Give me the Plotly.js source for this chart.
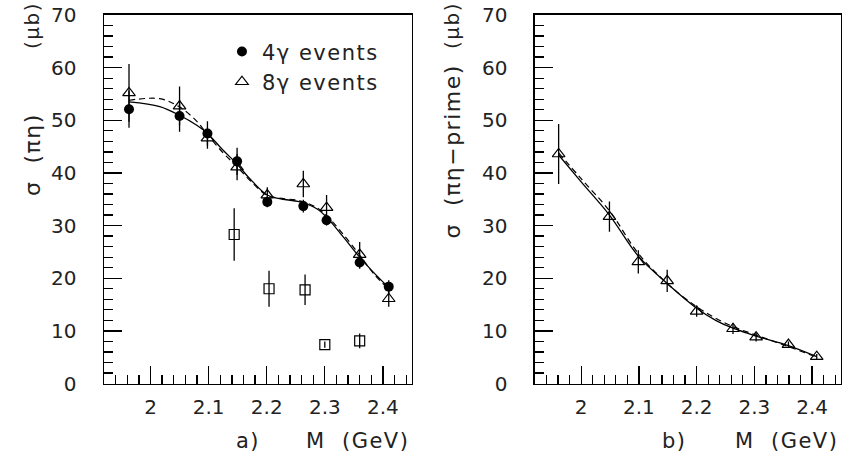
<!DOCTYPE html>
<html>
<head>
<meta charset="utf-8">
<script src="https://cdn.plot.ly/plotly-3.0.1.min.js"></script>
<style>
html,body{margin:0;padding:0;background:#fff;}
.annotation-text,.legendtext{letter-spacing:1.5px;}
</style>
</head>
<body>
<div id="chart" style="width:843px;height:460px;"></div>
<script>
// ---- panel a) : 4γ events
var mass4g = [1.963, 2.050, 2.098, 2.149, 2.201, 2.263, 2.303, 2.360, 2.410];
var sigma4g = [52.1, 50.8, 47.5, 42.2, 34.5, 33.7, 31.0, 23.0, 18.4];
var err4g = [3.5, 3.0, 2.3, 2.6, 1.0, 1.2, 1.0, 1.2, 1.2];
// ---- panel a) : 8γ events
var mass8g = [1.963, 2.050, 2.098, 2.149, 2.201, 2.263, 2.303, 2.360, 2.410];
var sigma8g = [55.2, 52.7, 46.6, 41.1, 35.8, 37.9, 33.4, 24.5, 16.1];
var err8g = [5.5, 3.7, 2.0, 2.5, 1.5, 2.5, 2.4, 2.4, 1.5];
// ---- panel a) : open squares
var massSq = [2.144, 2.204, 2.266, 2.300, 2.360];
var sigmaSq = [28.3, 18.0, 17.8, 7.4, 8.1];
var errSq = [5.0, 3.4, 2.9, 0.6, 1.4];
// ---- panel a) : fit curves
var fitAx = [1.963, 2.016, 2.049, 2.079, 2.098, 2.125, 2.148, 2.171, 2.201, 2.222, 2.257, 2.286, 2.303, 2.332, 2.360, 2.383, 2.410];
var fitAsolid = [53.5, 52.6, 51.0, 49.1, 47.5, 44.3, 41.8, 38.9, 35.8, 35.1, 34.5, 33.2, 31.6, 27.8, 24.0, 21.2, 18.2];
var fitAdash = [53.8, 54.1, 52.6, 49.9, 47.3, 43.8, 41.3, 38.6, 35.7, 35.2, 34.7, 33.4, 31.9, 28.3, 24.4, 21.0, 17.9];
// ---- panel b) : πη'
var massB = [1.961, 2.049, 2.099, 2.149, 2.200, 2.263, 2.303, 2.359, 2.408];
var sigmaB = [43.6, 31.7, 23.1, 19.5, 13.7, 10.4, 8.8, 7.4, 5.1];
var errB = [5.7, 2.85, 2.2, 2.1, 1.0, 1.0, 0.8, 0.6, 0.5];
var fitBx = [1.961, 2.000, 2.049, 2.099, 2.149, 2.200, 2.233, 2.263, 2.303, 2.359, 2.408];
var fitBsolid = [43.4, 38.3, 32.0, 24.2, 19.0, 14.3, 12.0, 10.5, 9.0, 7.2, 5.1];
var fitBdash = [43.8, 38.9, 32.8, 24.7, 19.0, 14.6, 12.4, 10.8, 9.2, 7.0, 5.0];
// ---- ticks / labels
var xTickVals = [2.0, 2.1, 2.2, 2.3, 2.4];
var xTickText = ["2", "2.1", "2.2", "2.3", "2.4"];
var yTickVals = [0, 10, 20, 30, 40, 50, 60, 70];
var yTickText = ["0", "10", "20", "30", "40", "50", "60", "70"];

var FONT = "DejaVu Sans, Liberation Sans, sans-serif";
var TXT = "#222";

function eb(arr){ return {type:'data', array:arr, visible:true, color:'#000', thickness:1.3, width:0}; }

var traces = [
  {x:fitAx, y:fitAdash, xaxis:'x', yaxis:'y', mode:'lines', showlegend:false,
   line:{color:'#000', width:1.2, dash:'6px,4px', shape:'spline', smoothing:1}},
  {x:fitAx, y:fitAsolid, xaxis:'x', yaxis:'y', mode:'lines', showlegend:false,
   line:{color:'#000', width:1.3, shape:'spline', smoothing:1}},
  {x:mass4g, y:sigma4g, error_y:eb(err4g), xaxis:'x', yaxis:'y', mode:'markers', name:'4γ events',
   marker:{symbol:'circle', size:10, color:'#000'}},
  {x:mass8g, y:sigma8g, error_y:eb(err8g), xaxis:'x', yaxis:'y', mode:'markers', name:'8γ events',
   marker:{symbol:'triangle-up-open', size:11, color:'#000', line:{width:1.2, color:'#000'}}},
  {x:massSq, y:sigmaSq, error_y:eb(errSq), xaxis:'x', yaxis:'y', mode:'markers', showlegend:false,
   marker:{symbol:'square-open', size:10, color:'#000', line:{width:1.2, color:'#000'}}},
  {x:fitBx, y:fitBdash, xaxis:'x2', yaxis:'y2', mode:'lines', showlegend:false,
   line:{color:'#000', width:1.2, dash:'6px,4px', shape:'spline', smoothing:1}},
  {x:fitBx, y:fitBsolid, xaxis:'x2', yaxis:'y2', mode:'lines', showlegend:false,
   line:{color:'#000', width:1.3, shape:'spline', smoothing:1}},
  {x:massB, y:sigmaB, error_y:eb(errB), xaxis:'x2', yaxis:'y2', mode:'markers', showlegend:false,
   marker:{symbol:'triangle-up-open', size:11, color:'#000', line:{width:1.2, color:'#000'}}}
];

function xax(dom, anchor){
  return {domain:dom, anchor:anchor, range:[1.92, 2.45], showline:true, mirror:true, linecolor:'#000', linewidth:1.5,
    showgrid:false, zeroline:false, ticks:'inside', ticklen:18, tickwidth:1.3, tickcolor:'#000',
    tickmode:'array', tickvals:xTickVals, ticktext:xTickText, ticklabelstandoff:5,
    tickfont:{family:FONT, size:20, color:TXT},
    minor:{ticks:'inside', ticklen:9, tickwidth:1.3, tickcolor:'#000', tickmode:'linear', tick0:1.92, dtick:0.02, showgrid:false}};
}
function yax(anchor){
  return {domain:[0.1663, 0.9674], anchor:anchor, range:[0, 70], showline:true, mirror:true, linecolor:'#000', linewidth:1.5,
    showgrid:false, zeroline:false, ticks:'inside', ticklen:18, tickwidth:1.3, tickcolor:'#000',
    tickmode:'array', tickvals:yTickVals, ticktext:yTickText, ticklabelstandoff:22,
    tickfont:{family:FONT, size:20, color:TXT},
    minor:{ticks:'inside', ticklen:9, tickwidth:1.3, tickcolor:'#000', tickmode:'linear', tick0:0, dtick:2, showgrid:false}};
}

function ann(text, x, y, xanchor, size, angle){
  return {text:text, x:x, y:y, xref:'paper', yref:'paper', xanchor:xanchor, yanchor:'middle', showarrow:false,
    textangle:angle||0, borderpad:0, font:{family:FONT, size:size, color:TXT}};
}

var layout = {
  width:843, height:460, margin:{l:0, r:0, t:0, b:0}, paper_bgcolor:'#fff', plot_bgcolor:'#fff',
  showlegend:true,
  legend:{x:0.2633, y:0.932, xanchor:'left', yanchor:'top', bgcolor:'rgba(0,0,0,0)', borderwidth:0,
    font:{family:FONT, size:21, color:TXT}, tracegroupgap:0},
  xaxis:xax([0.1234, 0.4887], 'y'),
  yaxis:yax('x'),
  xaxis2:xax([0.6346, 0.9976], 'y2'),
  yaxis2:yax('x2'),
  annotations:[
    ann('(μb)', 0.038, 0.9435, 'center', 20, -90),
    ann('σ  (πη)', 0.038, 0.663, 'center', 22, -90),
    ann('(μb)', 0.5362, 0.9435, 'center', 20, -90),
    ann('σ  (πη−prime)', 0.5362, 0.6707, 'center', 22, -90),
    ann('a)', 0.2936, 0.0413, 'center', 21, 0),
    ann('M  (GeV)', 0.4864, 0.0413, 'right', 21, 0),
    ann('b)', 0.8007, 0.0413, 'center', 21, 0),
    ann('M  (GeV)', 0.9953, 0.0413, 'right', 21, 0)
  ]
};

Plotly.newPlot('chart', traces, layout, {displayModeBar:false, staticPlot:true});
</script>
</body>
</html>
